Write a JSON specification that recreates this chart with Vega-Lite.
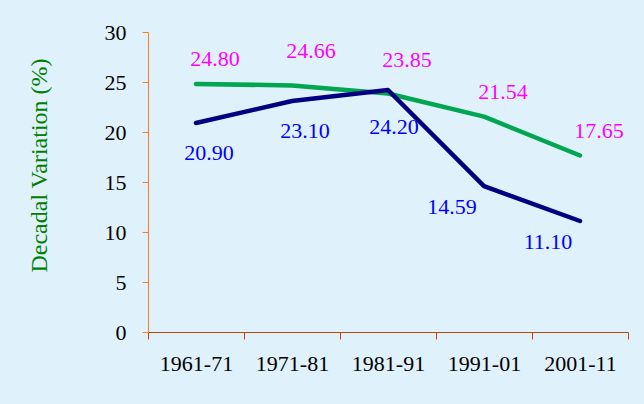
{
  "$schema": "https://vega.github.io/schema/vega-lite/v6.json",
  "autosize": {"type": "none"},
  "width": 480,
  "height": 300,
  "padding": {"left": 148, "top": 32, "right": 16, "bottom": 72},
  "background": "#dff1fb",
  "config": {
    "view": {"stroke": null},
    "font": "Liberation Serif",
    "axis": {"grid": false, "labelFont": "Liberation Serif", "titleFont": "Liberation Serif"}
  },
  "data": {
    "values": [
      {"period": "1961-71", "series": "India", "value": 24.80},
      {"period": "1971-81", "series": "India", "value": 24.66},
      {"period": "1981-91", "series": "India", "value": 23.85},
      {"period": "1991-01", "series": "India", "value": 21.54},
      {"period": "2001-11", "series": "India", "value": 17.65},
      {"period": "1961-71", "series": "Andhra Pradesh", "value": 20.90},
      {"period": "1971-81", "series": "Andhra Pradesh", "value": 23.10},
      {"period": "1981-91", "series": "Andhra Pradesh", "value": 24.20},
      {"period": "1991-01", "series": "Andhra Pradesh", "value": 14.59},
      {"period": "2001-11", "series": "Andhra Pradesh", "value": 11.10}
    ]
  },
  "encoding": {
    "x": {
      "field": "period", "type": "nominal", "sort": null,
      "scale": {"type": "band", "paddingInner": 0, "paddingOuter": 0},
      "axis": {
        "title": null, "labelAngle": 0, "labelFontSize": 22, "labelColor": "#000000",
        "domainColor": "#c0440c", "tickColor": "#c0440c", "tickSize": 7, "tickBand": "extent",
        "labelPadding": 14
      }
    },
    "y": {
      "field": "value", "type": "quantitative",
      "scale": {"domain": [0, 30], "nice": false},
      "axis": {
        "title": "Decadal Variation (%)", "titleColor": "#008000", "titleFontSize": 24, "titleFontWeight": "normal",
        "titlePadding": 53, "titleY": 133,
        "values": [0, 5, 10, 15, 20, 25, 30], "labelFontSize": 22, "labelColor": "#000000",
        "domainColor": "#ff7a22", "tickColor": "#ff7a22", "tickSize": 6, "labelPadding": 16
      }
    }
  },
  "layer": [
    {
      "mark": {"type": "line", "strokeWidth": 4.5, "strokeCap": "round", "strokeJoin": "round"},
      "encoding": {
        "color": {"field": "series", "type": "nominal", "legend": null,
          "scale": {"domain": ["India", "Andhra Pradesh"], "range": ["#00a650", "#000080"]}}
      }
    },
    {
      "transform": [{"filter": {"field": "series", "equal": "India"}}, {"filter": {"field": "period", "oneOf": ["1961-71", "1991-01", "2001-11"]}}],
      "mark": {"type": "text", "fontSize": 22, "color": "#ff00ff", "dx": 19, "dy": -25, "baseline": "middle"},
      "encoding": {"text": {"field": "value", "type": "quantitative", "format": ".2f"}}
    },
    {
      "transform": [{"filter": {"field": "series", "equal": "India"}}, {"filter": {"field": "period", "oneOf": ["1971-81", "1981-91"]}}],
      "mark": {"type": "text", "fontSize": 22, "color": "#ff00ff", "dx": 19, "dy": -34, "baseline": "middle"},
      "encoding": {"text": {"field": "value", "type": "quantitative", "format": ".2f"}}
    },
    {
      "transform": [{"filter": {"field": "series", "equal": "Andhra Pradesh"}}, {"filter": {"field": "period", "oneOf": ["1961-71", "1971-81"]}}],
      "mark": {"type": "text", "fontSize": 22, "color": "#0000ff", "dx": 13, "dy": 30, "baseline": "middle"},
      "encoding": {"text": {"field": "value", "type": "quantitative", "format": ".2f"}}
    },
    {
      "transform": [{"filter": {"field": "series", "equal": "Andhra Pradesh"}}, {"filter": {"field": "period", "equal": "1981-91"}}],
      "mark": {"type": "text", "fontSize": 22, "color": "#0000ff", "dx": 6, "dy": 37, "baseline": "middle"},
      "encoding": {"text": {"field": "value", "type": "quantitative", "format": ".2f"}}
    },
    {
      "transform": [{"filter": {"field": "series", "equal": "Andhra Pradesh"}}, {"filter": {"field": "period", "oneOf": ["1991-01", "2001-11"]}}],
      "mark": {"type": "text", "fontSize": 22, "color": "#0000ff", "dx": -32, "dy": 21, "baseline": "middle"},
      "encoding": {"text": {"field": "value", "type": "quantitative", "format": ".2f"}}
    }
  ]
}
